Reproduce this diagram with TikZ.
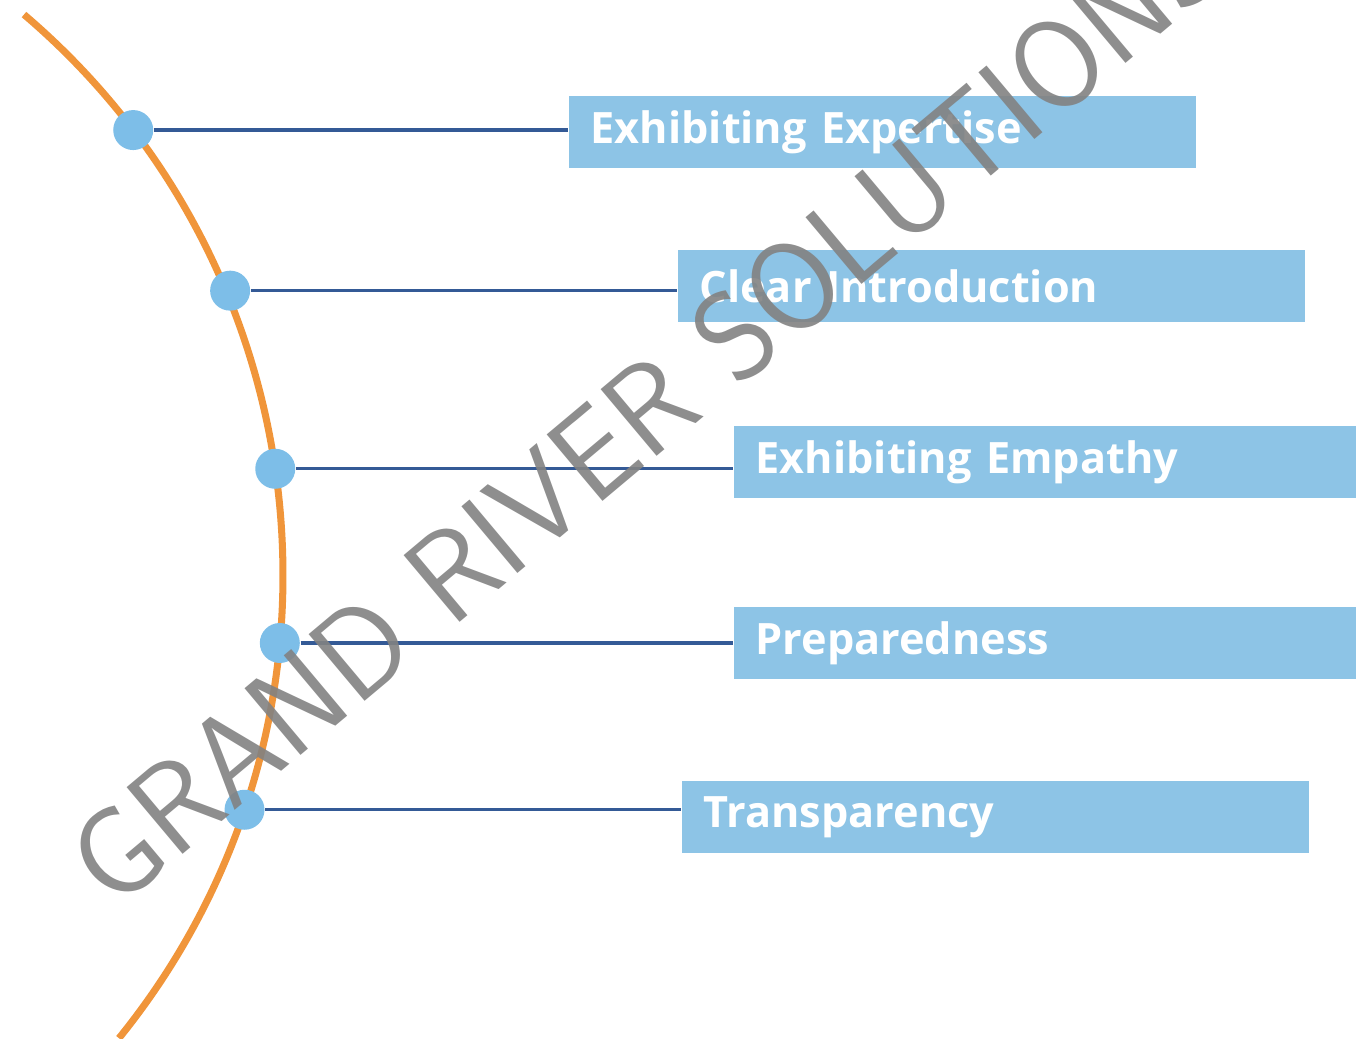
\documentclass[tikz,border=0pt]{standalone}
\usepackage{fontspec}
\setmainfont{Open Sans}
\usetikzlibrary{arrows,shapes,positioning}
\definecolor{arcorange}{RGB}{240,149,58}
\definecolor{boxblue}{RGB}{141,196,230}
\definecolor{dotblue}{RGB}{125,190,232}
\definecolor{linkblue}{RGB}{52,90,150}
\definecolor{stampgray}{RGB}{130,130,130}

\begin{document}
\begin{tikzpicture}[
  box/.style={anchor=west, fill=boxblue, text=white, font=\bfseries\fontsize{12.3}{14}\selectfont,
    text width=5.83cm, inner xsep=0.22cm, minimum height=0.72cm, align=left},
  dot/.style={circle, fill=dotblue, minimum size=0.4cm, inner sep=0pt},
  link/.style={draw=linkblue, line width=0.9pt},
  stamp/.style={rotate=40, text=stampgray, text opacity=0.9, font=\sffamily\fontsize{35.7}{36}\selectfont}]
\useasboundingbox (0,0) rectangle (13.56,-10.38);
\clip (0,0) rectangle (13.56,-10.38);
\coordinate (O) at (-4.53,-5.75);
\draw[arcorange, line width=2pt] ([shift={(49.6:7.36)}]O) arc[start angle=49.6, end angle=-39, radius=7.36];
\node[dot] (x) at ([shift={(37.2:7.36)}]O) {};
\node[dot] (i) at ([shift={(22.6:7.4)}]O) {};
\node[dot] (e) at ([shift={(8.3:7.36)}]O) {};
\node[dot] (p) at ([shift={(-5.3:7.36)}]O) {};
\node[dot] (t) at ([shift={(-18.6:7.36)}]O) {};
\node[box] (X) at (5.68,-1.32) {Exhibiting Expertise};
\node[box] (I) at (6.77,-2.86) {Clear Introduction};
\node[box] (E) at (7.33,-4.62) {Exhibiting Empathy};
\node[box] (P) at (7.33,-6.43) {Preparedness};
\node[box] (T) at (6.81,-8.17) {Transparency};
\draw[link] (x) -- (x -| X.west);
\draw[link] (i) -- (i -| I.west);
\draw[link] (e) -- (e -| E.west);
\draw[link] (p) -- (p -| P.west);
\draw[link] (t) -- (t -| T.west);
\node[stamp] (W) at (6.45,-4.1) {GRAND RIVER SOLUTIONS};
\end{tikzpicture}
\end{document}
